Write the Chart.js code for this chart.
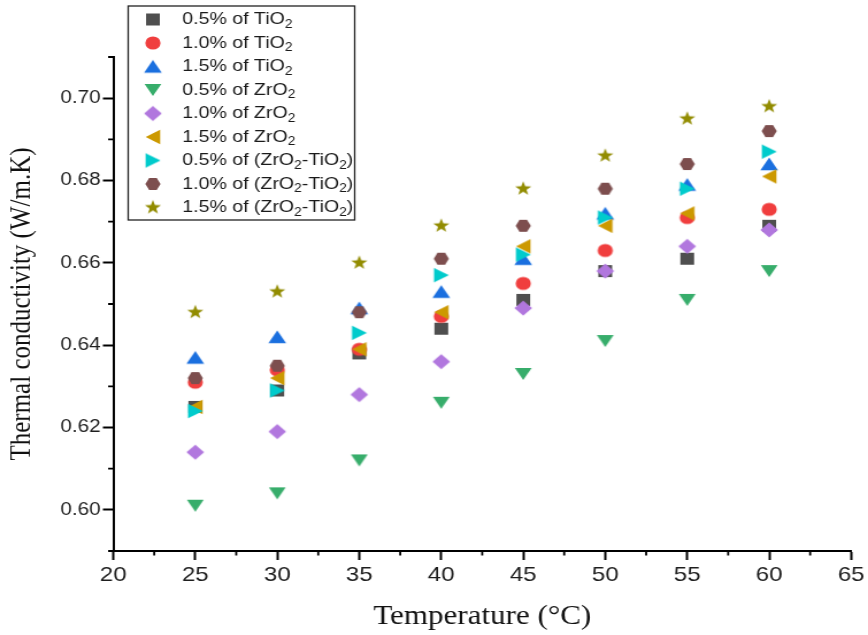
<!DOCTYPE html>
<html>
<head>
<meta charset="utf-8">
<title>Thermal conductivity vs temperature</title>
<script src="https://cdn.jsdelivr.net/npm/chart.js@4.4.1/dist/chart.umd.min.js"></script>
<style>
  html, body { margin: 0; padding: 0; background: #fff; overflow: hidden; }
  /* the plot is drawn on a narrower canvas and widened to 868px */
  #wrap { width: 755px; height: 635px; transform: scaleX(1.1497); transform-origin: 0 0; }
</style>
</head>
<body>
<div id="wrap"><canvas id="tc-chart" width="755" height="635"></canvas></div>
<script>
// Temperatures (°C)
const temperatures = [25, 30, 35, 40, 45, 50, 55, 60];

// Thermal conductivity (W/m.K)
const tio2_05 = [0.625, 0.629, 0.638, 0.644, 0.651, 0.658, 0.661, 0.669];
const tio2_10 = [0.631, 0.634, 0.639, 0.647, 0.655, 0.663, 0.671, 0.673];
const tio2_15 = [0.637, 0.642, 0.649, 0.653, 0.661, 0.672, 0.679, 0.684];
const zro2_05 = [0.601, 0.604, 0.612, 0.626, 0.633, 0.641, 0.651, 0.658];
const zro2_10 = [0.614, 0.619, 0.628, 0.636, 0.649, 0.658, 0.664, 0.668];
const zro2_15 = [0.625, 0.632, 0.639, 0.648, 0.664, 0.669, 0.672, 0.681];
const hybrid_05 = [0.624, 0.629, 0.643, 0.657, 0.662, 0.671, 0.678, 0.687];
const hybrid_10 = [0.632, 0.635, 0.648, 0.661, 0.669, 0.678, 0.684, 0.692];
const hybrid_15 = [0.648, 0.653, 0.660, 0.669, 0.678, 0.686, 0.695, 0.698];

const seriesValues = [tio2_05, tio2_10, tio2_15, zro2_05, zro2_10, zro2_15, hybrid_05, hybrid_10, hybrid_15];

const seriesLabels = [
  "0.5% of TiO₂",
  "1.0% of TiO₂",
  "1.5% of TiO₂",
  "0.5% of ZrO₂",
  "1.0% of ZrO₂",
  "1.5% of ZrO₂",
  "0.5% of (ZrO₂-TiO₂)",
  "1.0% of (ZrO₂-TiO₂)",
  "1.5% of (ZrO₂-TiO₂)"
];

const seriesColors = ["#4f4f4f", "#f03e3e", "#1a6fdf", "#37ad6b", "#b177de", "#cc9900", "#00cbcc", "#7d4e4e", "#928c00"];
const seriesShapes = ["square", "circle", "triangleUp", "triangleDown", "diamond", "triangleLeft", "triangleRight", "hexagon", "star"];

// Axis ticks
const xTicks = [20, 25, 30, 35, 40, 45, 50, 55, 60, 65];
const xMinorTicks = [22.5, 27.5, 32.5, 37.5, 42.5, 47.5, 52.5, 57.5, 62.5];
const yTicks = [0.60, 0.62, 0.64, 0.66, 0.68, 0.70];
const yMinorTicks = [0.59, 0.61, 0.63, 0.65, 0.67, 0.69, 0.71];

const fontSans = "'Liberation Sans', Arial, sans-serif";
const fontSerif = "'Liberation Serif', 'Times New Roman', serif";

// Filled marker drawn once on a small canvas, used as pointStyle
function makeMarker(shape, color) {
  const size = 20;
  const c = size / 2;
  const cv = document.createElement("canvas");
  cv.width = size;
  cv.height = size;
  const g = cv.getContext("2d");
  g.fillStyle = color;
  g.beginPath();

  const poly = (pts) => {
    g.moveTo(c + pts[0][0], c + pts[0][1]);
    for (let i = 1; i < pts.length; i++) g.lineTo(c + pts[i][0], c + pts[i][1]);
    g.closePath();
  };

  switch (shape) {
    case "square":
      g.rect(c - 6, c - 6, 12, 12);
      break;
    case "circle":
      g.arc(c, c, 6.6, 0, Math.PI * 2);
      break;
    case "triangleUp":
      poly([[0, -6.6], [7.7, 6.2], [-7.7, 6.2]]);
      break;
    case "triangleDown":
      poly([[-7.3, -5.9], [7.3, -5.9], [0, 6]]);
      break;
    case "diamond":
      poly([[0, -7.5], [7.7, 0], [0, 7.5], [-7.7, 0]]);
      break;
    case "triangleLeft":
      poly([[-6.3, 0], [6.3, -7.3], [6.3, 7.3]]);
      break;
    case "triangleRight":
      poly([[6.6, 0], [-6.4, -7.3], [-6.4, 7.3]]);
      break;
    case "hexagon": {
      const pts = [];
      for (let k = 0; k < 6; k++) {
        const a = (k * Math.PI) / 3;
        pts.push([6.6 * Math.cos(a), 7.0 * Math.sin(a)]);
      }
      poly(pts);
      break;
    }
    case "star": {
      const pts = [];
      for (let k = 0; k < 10; k++) {
        const a = -Math.PI / 2 + (k * Math.PI) / 5;
        const r = k % 2 === 0 ? 7.4 : 3.0;
        pts.push([r * Math.cos(a), r * Math.sin(a)]);
      }
      poly(pts);
      break;
    }
  }
  g.fill();
  return cv;
}

const markers = seriesShapes.map((s, i) => makeMarker(s, seriesColors[i]));

const datasets = seriesValues.map((values, i) => ({
  label: seriesLabels[i],
  data: temperatures.map((t, k) => ({ x: t, y: values[k] })),
  pointStyle: markers[i],
  pointRadius: 7,
  pointHoverRadius: 7,
  showLine: false,
  order: -i
}));

// short minor ticks between the labelled ones
const minorTicks = {
  id: "minorTicks",
  afterDraw(chart) {
    const { ctx, scales: { x, y } } = chart;
    const len = 4.5;
    ctx.save();
    ctx.strokeStyle = "#000";
    ctx.lineWidth = 1.8;
    ctx.beginPath();
    xMinorTicks.forEach((v) => {
      const px = x.getPixelForValue(v);
      ctx.moveTo(px, x.top);
      ctx.lineTo(px, x.top + len);
    });
    yMinorTicks.forEach((v) => {
      const py = y.getPixelForValue(v);
      ctx.moveTo(y.right, py);
      ctx.lineTo(y.right - len, py);
    });
    ctx.stroke();
    ctx.restore();
  }
};

// text with "₂" drawn as a lowered small 2
function drawSubscriptText(ctx, text, x, y, size) {
  const parts = text.split("₂");
  let cx = x;
  parts.forEach((part, i) => {
    ctx.font = size + "px " + fontSans;
    ctx.fillText(part, cx, y);
    cx += ctx.measureText(part).width;
    if (i < parts.length - 1) {
      ctx.font = Math.round(size * 0.7) + "px " + fontSans;
      ctx.fillText("2", cx, y + size * 0.3);
      cx += ctx.measureText("2").width;
    }
  });
}

// boxed legend in the upper left corner
const boxedLegend = {
  id: "boxedLegend",
  afterDraw(chart) {
    const ctx = chart.ctx;
    const box = { left: 111.5, top: 6, right: 308.5, bottom: 220 };
    const rowTop = 19.5;
    const rowStep = 23.5;
    ctx.save();
    ctx.fillStyle = "#fff";
    ctx.fillRect(box.left, box.top, box.right - box.left, box.bottom - box.top);
    ctx.strokeStyle = "#222";
    ctx.lineWidth = 1.3;
    ctx.strokeRect(box.left, box.top, box.right - box.left, box.bottom - box.top);
    ctx.textBaseline = "middle";
    ctx.textAlign = "left";
    ctx.fillStyle = "#1a1a1a";
    chart.data.datasets.forEach((ds, i) => {
      const yy = rowTop + i * rowStep;
      const m = markers[i];
      ctx.drawImage(m, 133 - m.width / 2, yy - m.height / 2);
      drawSubscriptText(ctx, ds.label, 158.5, yy, 17);
    });
    ctx.restore();
  }
};

const ctx = document.getElementById("tc-chart").getContext("2d");

new Chart(ctx, {
  type: "scatter",
  data: { datasets },
  options: {
    responsive: false,
    animation: false,
    devicePixelRatio: 1,
    layout: {
      autoPadding: false,
      padding: { top: 57, right: 13, left: 0, bottom: 0 }
    },
    plugins: {
      legend: { display: false },
      tooltip: { enabled: false }
    },
    scales: {
      x: {
        type: "linear",
        position: "bottom",
        min: 20,
        max: 65,
        afterBuildTicks: (scale) => {
          scale.ticks = xTicks.map((v) => ({ value: v }));
        },
        afterFit: (scale) => {
          scale.height = 84;
        },
        ticks: {
          font: { family: fontSans, size: 21 },
          color: "#1e1e1e",
          padding: 3,
          maxRotation: 0,
          autoSkip: false,
          callback: (v) => String(v)
        },
        grid: {
          display: true,
          drawOnChartArea: false,
          drawTicks: true,
          tickLength: 9,
          tickWidth: 2,
          tickColor: "#000"
        },
        border: { display: true, color: "#000", width: 2 },
        title: {
          display: true,
          text: "Temperature (°C)",
          font: { family: fontSerif, size: 27 },
          color: "#111",
          padding: { top: 0, bottom: 2 }
        }
      },
      y: {
        type: "linear",
        position: "left",
        min: 0.59,
        max: 0.71,
        afterBuildTicks: (scale) => {
          scale.ticks = yTicks.map((v) => ({ value: v }));
        },
        afterFit: (scale) => {
          scale.width = 98.5;
        },
        ticks: {
          font: { family: fontSans, size: 18 },
          color: "#1e1e1e",
          padding: 2,
          autoSkip: false,
          callback: (v) => v.toFixed(2)
        },
        grid: {
          display: true,
          drawOnChartArea: false,
          drawTicks: true,
          tickLength: 9,
          tickWidth: 2,
          tickColor: "#000"
        },
        border: { display: true, color: "#000", width: 2 },
        title: {
          display: true,
          text: "Thermal conductivity (W/m.K)",
          font: { family: fontSerif, size: 25 },
          color: "#111",
          padding: { top: 4, bottom: 0 }
        }
      }
    }
  },
  plugins: [minorTicks, boxedLegend]
});
</script>
</body>
</html>
